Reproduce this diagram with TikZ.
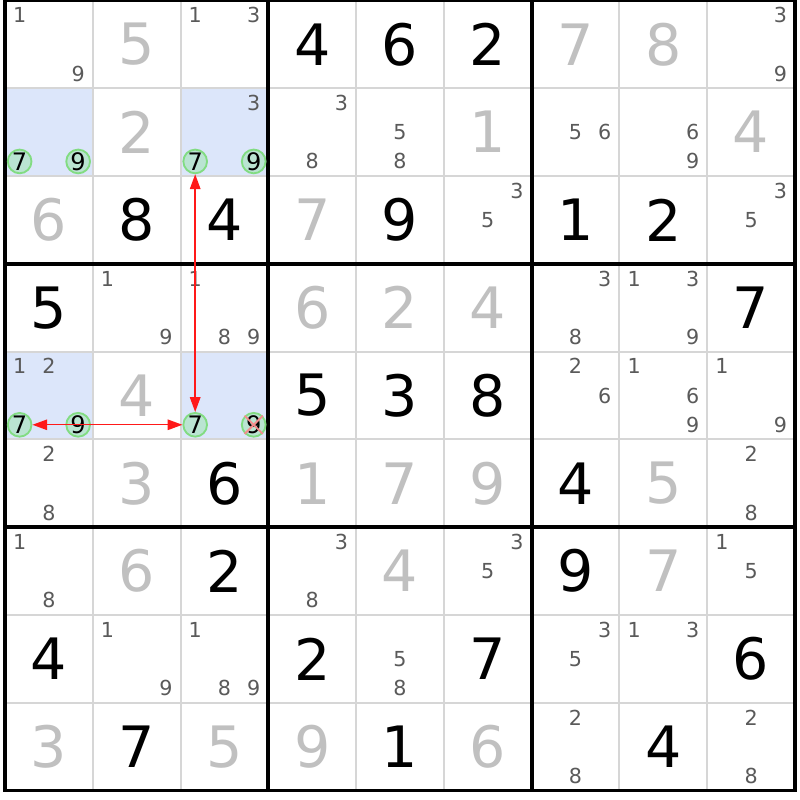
\documentclass[tikz,border=0pt]{standalone}
\usepackage{fontspec}
\setmainfont{DejaVu Sans}
\usetikzlibrary{calc}
\usetikzlibrary{arrows.meta}
\usetikzlibrary{positioning}
\definecolor{givengray}{RGB}{192,192,192}
\definecolor{pencil}{RGB}{90,90,90}
\definecolor{thingrid}{RGB}{214,214,214}
\definecolor{hilite}{RGB}{220,230,250}
\definecolor{ringgreen}{RGB}{130,220,130}
\definecolor{ringfill}{RGB}{186,228,210}
\definecolor{linkred}{RGB}{255,25,25}
\definecolor{strikered}{RGB}{245,140,140}
\tikzset{given/.style={inner sep=0pt, text=givengray, font=\fontsize{18.5}{20}\selectfont}}
\tikzset{solved/.style={inner sep=0pt, text=black, font=\fontsize{18.5}{20}\selectfont}}
\tikzset{cand/.style={inner sep=0pt, text=pencil, font=\fontsize{6.7}{7}\selectfont}}
\tikzset{chaincand/.style={circle, draw=ringgreen, fill=ringfill, line width=0.6pt, minimum size=0.27cm, inner sep=0pt, text=black, font=\fontsize{7.8}{8}\selectfont}}
\tikzset{link/.style={draw=linkred, line width=0.45pt, {Triangle[length=4.8pt,width=3.4pt]}-{Triangle[length=4.8pt,width=3.4pt]}}}
\tikzset{strike/.style={draw=strikered, line width=0.6pt}}

\begin{document}
\begin{tikzpicture}[x=1cm,y=-1cm]

\useasboundingbox (-0.057,-0.006) rectangle (9.057,9.108);
\fill[white] (-0.057,-0.006) rectangle (9.057,9.108);

%highlighted cells
\fill[hilite] (0,1) rectangle (1,2);
\fill[hilite] (2,1) rectangle (3,2);
\fill[hilite] (0,4) rectangle (1,5);
\fill[hilite] (2,4) rectangle (3,5);

%grid
\foreach \i in {1,2,4,5,7,8} {
  \draw[thingrid, line width=0.65pt] (\i,0) -- (\i,9);
  \draw[thingrid, line width=0.65pt] (0,\i) -- (9,\i);
}
\foreach \i in {0,3,6,9} {
  \draw[black, line width=1.2pt] (\i,-0.02) -- (\i,9.02);
  \draw[black, line width=1.2pt] (-0.02,\i) -- (9.02,\i);
}

%givens
\foreach \row/\col/\dig in {1/2/5,1/7/7,1/8/8,2/2/2,2/6/1,2/9/4,3/1/6,3/4/7,4/4/6,4/5/2,4/6/4,5/2/4,
  6/2/3,6/4/1,6/5/7,6/6/9,6/8/5,7/2/6,7/5/4,7/8/7,9/1/3,9/3/5,9/4/9,9/6/6}
  \node[given] (g-\row-\col) at (\col-0.5,\row-0.5) {\dig};

%solved cells
\foreach \row/\col/\dig in {1/4/4,1/5/6,1/6/2,3/2/8,3/3/4,3/5/9,3/7/1,3/8/2,4/1/5,4/9/7,5/4/5,5/5/3,
  5/6/8,6/3/6,6/7/4,7/3/2,7/7/9,8/1/4,8/4/2,8/6/7,8/9/6,9/2/7,9/5/1,9/8/4}
  \node[solved] (s-\row-\col) at (\col-0.5,\row-0.5) {\dig};

%candidates
\foreach \row/\col/\dig in {1/1/1,1/1/9,1/3/1,1/3/3,1/9/3,1/9/9,
  2/3/3,2/4/3,2/4/8,2/5/5,2/5/8,2/7/5,2/7/6,2/8/6,2/8/9,
  3/6/3,3/6/5,3/9/3,3/9/5,
  4/2/1,4/2/9,4/3/1,4/3/8,4/3/9,4/7/3,4/7/8,4/8/1,4/8/3,4/8/9,
  5/1/1,5/1/2,5/7/2,5/7/6,5/8/1,5/8/6,5/8/9,5/9/1,5/9/9,
  6/1/2,6/1/8,6/9/2,6/9/8,
  7/1/1,7/1/8,7/4/3,7/4/8,7/6/3,7/6/5,7/9/1,7/9/5,
  8/2/1,8/2/9,8/3/1,8/3/8,8/3/9,8/5/5,8/5/8,8/7/3,8/7/5,8/8/1,8/8/3,
  9/7/2,9/7/8,9/9/2,9/9/8} {
  \pgfmathsetmacro\px{\col-1+(mod(\dig-1,3)+0.5)/3}
  \pgfmathsetmacro\py{\row-1+(int((\dig-1)/3)+0.5)/3}
  \node[cand] (p-\row-\col-\dig) at (\px,\py) {\dig};
}

%chain candidates
\foreach \row/\col/\dig in {2/1/7,2/1/9,2/3/7,2/3/9,5/1/7,5/1/9,5/3/7,5/3/9} {
  \pgfmathsetmacro\px{\col-1+(mod(\dig-1,3)+0.5)/3}
  \pgfmathsetmacro\py{\row-1+(int((\dig-1)/3)+0.5)/3}
  \node[chaincand] (k-\row-\col-\dig) at (\px,\py) {\dig};
}

%links
\path[link] (k-2-3-7) -- (k-5-3-7);
\path[link] (k-5-1-7) -- (k-5-3-7);

%eliminated
\path[strike] (k-5-3-9.south west) -- (k-5-3-9.north east);
\path[strike] (k-5-3-9.north west) -- (k-5-3-9.south east);

\end{tikzpicture}
\end{document}
